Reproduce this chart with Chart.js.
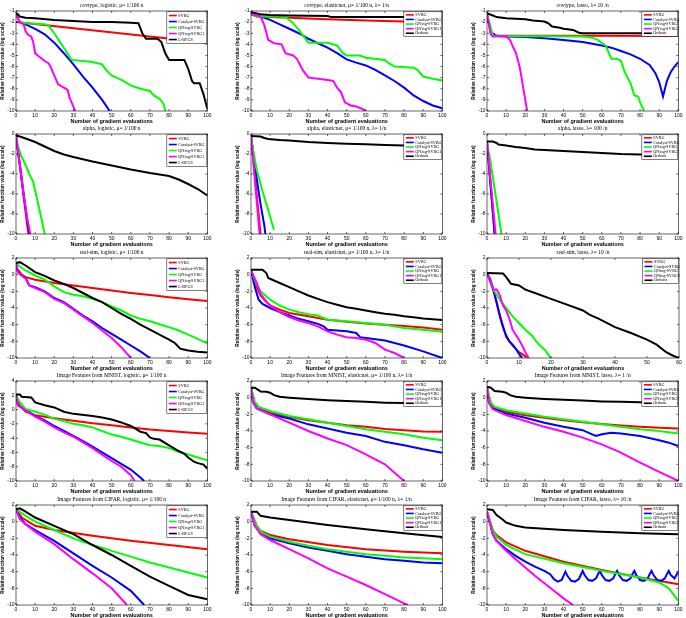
<!DOCTYPE html>
<html><head><meta charset="utf-8">
<script src="https://cdn.jsdelivr.net/npm/chart.js@4.4.0/dist/chart.umd.min.js"></script>
<style>
html,body{margin:0;padding:0;background:#fff;}
body{width:686px;height:618px;overflow:hidden;position:relative;}
canvas{position:absolute;}
</style>
</head><body>
<script>
// ---------- names / labels ----------
const seriesNamesLogistic = ['SVRG','Catalyst-SVRG','QNing-SVRG','QNing-SVRG1','L-BFGS'];
const seriesNamesComposite = ['SVRG','Catalyst-SVRG','QNing-SVRG','QNing-SVRG1','Orthant'];
const panelTitles = [
 'covtype, logistic, \u03bc= 1/100 n','covtype, elasticnet, \u03bc= 1/100 n, \u03bb= 1/n','covtype, lasso, \u03bb= 10 /n',
 'alpha, logistic, \u03bc= 1/100 n','alpha, elasticnet, \u03bc= 1/100 n, \u03bb= 1/n','alpha, lasso, \u03bb= 100 /n',
 'real-sim, logistic, \u03bc= 1/100 n','real-sim, elasticnet, \u03bc= 1/100 n, \u03bb= 1/n','real-sim, lasso, \u03bb= 10 /n',
 'Image Features from MNIST, logistic, \u03bc= 1/100 n','Image Features from MNIST, elasticnet, \u03bc= 1/100 n, \u03bb= 1/n','Image Features from MNIST, lasso, \u03bb= 1 /n',
 'Image Features from CIFAR, logistic, \u03bc= 1/100 n','Image Features from CIFAR, elasticnet, \u03bc= 1/100 n, \u03bb= 1/n','Image Features from CIFAR, lasso, \u03bb= 10 /n'
];
const xAxisLabel = 'Number of gradient evaluations';
const yAxisLabel = 'Relative function value (log scale)';
// axis ranges [xMax, yMin, yMax, yStep]
const axisRanges = [
 [100,-10,-1,1],[100,-10,-1,1],[100,-10,-1,1],
 [100,-10,0,2],[100,-10,0,2],[100,-10,0,2],
 [100,-10,2,2],[100,-10,2,2],[60,-10,2,2],
 [100,-10,4,2],[100,-10,2,2],[100,-10,2,2],
 [100,-10,2,2],[100,-10,2,2],[100,-10,2,2]
];

// ---------- data: [gradient evaluations, log10 relative value] ----------
// covtype logistic
const covLogSVRG = [[0,-2.0],[100,-3.85]];
const covLogCat = [[0,-1.3],[2,-2.0],[5,-2.2],[10,-2.6],[15,-3.1],[20,-3.85],[25,-4.8],[30,-5.8],[35,-6.9],[40,-7.9],[45,-9.0],[49,-10]];
const covLogQN = [[0,-1.3],[2,-2.0],[5,-2.1],[10,-2.15],[15,-2.2],[17,-2.3],[20,-3.0],[25,-4.3],[29,-5.4],[35,-5.5],[40,-5.6],[45,-5.8],[47,-6.3],[50,-6.8],[55,-7.2],[60,-7.7],[65,-8.0],[70,-8.2],[72,-8.6],[75,-8.9],[77,-9.3],[78,-10]];
const covLogQN1 = [[0,-1.3],[2,-2.0],[4,-2.2],[5,-2.8],[6,-3.1],[8,-3.3],[9,-3.8],[10,-4.8],[12,-5.1],[15,-5.5],[17,-5.7],[18,-6.0],[20,-6.8],[22,-7.6],[25,-7.9],[27,-8.1],[28,-8.8],[30,-9.6],[31,-10]];
const covLogLBFGS = [[0,-1.2],[1,-1.3],[2,-1.5],[5,-1.6],[10,-1.65],[20,-1.8],[30,-1.9],[40,-2.0],[50,-2.0],[60,-2.05],[64,-2.1],[66,-3.0],[68,-3.5],[74,-3.5],[76,-3.8],[78,-4.8],[80,-5.4],[88,-5.4],[90,-6.2],[92,-7.3],[93,-7.5],[96,-7.5],[98,-8.5],[100,-9.8]];
// covtype elasticnet
const covEnSVRG = [[0,-1.3],[3,-1.5],[10,-1.55],[20,-1.6],[40,-1.75],[60,-1.85],[80,-1.95],[100,-2.05]];
const covEnCat = [[0,-1.3],[5,-1.5],[10,-1.8],[15,-2.2],[20,-2.6],[25,-3.0],[30,-3.5],[35,-3.9],[40,-4.3],[45,-4.8],[50,-5.35],[55,-5.65],[60,-5.9],[65,-6.3],[70,-6.8],[75,-7.3],[80,-7.9],[85,-8.6],[90,-9.1],[95,-9.5],[100,-9.75]];
const covEnQN = [[0,-1.3],[3,-1.5],[15,-1.5],[19,-1.65],[22,-2.1],[25,-2.7],[28,-3.4],[30,-3.85],[40,-3.85],[45,-4.1],[48,-4.8],[50,-5.0],[57,-5.0],[60,-5.2],[70,-5.4],[72,-5.7],[75,-6.0],[85,-6.1],[87,-6.3],[90,-6.9],[95,-7.1],[100,-7.25]];
const covEnQN1 = [[0,-1.3],[5,-1.5],[7,-2.3],[9,-3.6],[12,-3.9],[16,-4.0],[18,-4.8],[22,-5.0],[24,-5.3],[27,-6.3],[30,-7.0],[35,-7.1],[40,-7.2],[43,-7.3],[45,-7.9],[47,-8.3],[49,-9.2],[52,-9.5],[55,-9.6],[58,-9.8],[60,-10]];
const covEnOrth = [[0,-1.1],[5,-1.3],[10,-1.35],[20,-1.4],[40,-1.45],[42,-1.55],[60,-1.55],[80,-1.55],[100,-1.5]];
// covtype lasso
const covLaSVRG = [[0,-1.3],[2,-3.0],[5,-3.2],[100,-3.25]];
const covLaCat = [[0,-1.3],[2,-2.9],[5,-3.25],[10,-3.3],[20,-3.35],[30,-3.45],[40,-3.6],[50,-3.8],[60,-4.1],[65,-4.3],[70,-4.6],[75,-4.9],[80,-5.3],[85,-5.85],[88,-6.6],[90,-7.4],[92,-8.7],[94,-7.3],[96,-6.5],[98,-6.0],[100,-5.6]];
const covLaQN = [[0,-1.3],[2,-2.5],[3,-3.2],[10,-3.25],[50,-3.3],[55,-3.4],[58,-3.6],[60,-3.9],[62,-4.1],[63,-4.5],[65,-5.3],[68,-5.3],[70,-5.5],[72,-6.5],[75,-7.5],[77,-8.6],[79,-8.7],[80,-9.2],[81,-9.6],[82,-10]];
const covLaQN1 = [[0,-1.3],[2,-3.1],[3,-3.3],[10,-3.25],[12,-3.6],[14,-4.4],[15,-4.7],[17,-6.0],[18,-6.9],[19,-8.0],[20,-9.0],[21,-10]];
const covLaOrth = [[0,-1.2],[3,-1.4],[5,-1.55],[10,-1.65],[20,-1.75],[24,-1.85],[30,-1.95],[32,-2.1],[34,-2.4],[38,-2.5],[40,-2.6],[45,-2.7],[48,-2.95],[50,-3.0],[100,-3.0]];
// alpha logistic
const alpLogSVRG = [[0,-0.2],[2,-3.2],[4,-6.3],[6,-9.3],[6.5,-10]];
const alpLogCat = [[0,-0.2],[2,-3.0],[4,-6.0],[6,-8.8],[7,-10]];
const alpLogQN = [[0,-0.2],[1,-1.2],[3,-2.3],[5,-3.1],[7,-4.0],[9,-4.8],[11,-6.5],[13,-8.2],[15,-10]];
const alpLogQN1 = [[0,-0.2],[2,-3.1],[4,-6.1],[6,-8.6],[7.5,-10]];
const alpLogLBFGS = [[0,-0.15],[2,-0.25],[5,-0.45],[10,-0.8],[15,-1.25],[20,-1.7],[25,-2.05],[30,-2.3],[40,-2.75],[50,-3.15],[60,-3.55],[70,-3.9],[80,-4.2],[85,-4.55],[90,-5.0],[95,-5.5],[100,-6.15]];
// alpha elasticnet
const alpEnSVRG = [[0,-0.2],[5,-10]];
const alpEnCat = [[0,-0.2],[3,-4.5],[5,-7.0],[7,-9.2],[7.5,-10]];
const alpEnQN = [[0,-0.2],[1,-1.5],[3,-3.6],[6,-5.7],[9,-7.6],[12,-9.6]];
const alpEnQN1 = [[0,-0.2],[4.5,-10]];
const alpEnOrth = [[0,-0.2],[5,-0.25],[7,-0.4],[9,-0.5],[15,-0.6],[20,-0.65],[30,-0.8],[40,-0.9],[50,-0.97],[60,-1.03],[70,-1.1],[80,-1.15],[100,-1.2]];
// alpha lasso
const alpLaSVRG = [[0,-0.8],[4,-10]];
const alpLaCat = [[0,-0.8],[4,-10]];
const alpLaQN = [[0,-0.8],[2,-3.0],[4,-5.5],[6,-8.0],[7.5,-10]];
const alpLaQN1 = [[0,-0.8],[4.5,-10]];
const alpLaOrth = [[0,-0.75],[3,-0.75],[5,-0.9],[6,-1.05],[10,-1.15],[15,-1.3],[20,-1.4],[25,-1.55],[30,-1.6],[40,-1.7],[50,-1.8],[60,-1.9],[70,-2.0],[80,-2.05],[90,-2.1],[100,-2.2]];
// real-sim logistic
const rsLogSVRG = [[0,0.9],[3,0],[5,-0.3],[10,-0.6],[20,-1.0],[30,-1.3],[40,-1.6],[50,-1.9],[60,-2.2],[70,-2.45],[80,-2.7],[90,-2.95],[100,-3.15]];
const rsLogCat = [[0,1.3],[1,0.3],[3,-0.1],[5,-0.4],[7,-1.3],[10,-1.5],[15,-2.0],[20,-2.8],[25,-3.3],[30,-4.1],[35,-4.9],[40,-5.6],[45,-6.4],[50,-7.1],[55,-7.8],[60,-8.5],[65,-9.2],[70,-10]];
const rsLogQN = [[0,1.3],[3,0.8],[5,0.5],[10,-0.1],[15,-0.6],[20,-1.4],[25,-2.1],[30,-2.4],[35,-2.6],[40,-2.9],[45,-3.3],[50,-3.8],[55,-4.3],[60,-4.9],[65,-5.3],[70,-5.6],[75,-5.95],[80,-6.3],[85,-6.7],[90,-7.2],[95,-7.7],[100,-8.25]];
const rsLogQN1 = [[0,1.3],[1,0.3],[3,-0.1],[5,-0.5],[7,-1.3],[10,-1.6],[15,-2.1],[20,-2.9],[25,-3.4],[30,-4.2],[35,-5.0],[40,-5.8],[45,-6.7],[50,-7.6],[55,-8.7],[60,-10]];
const rsLogLBFGS = [[0,1.4],[2,1.5],[5,1.1],[10,0.3],[15,-0.15],[20,-0.7],[25,-1.1],[30,-1.6],[35,-2.2],[40,-2.8],[45,-3.3],[50,-4.0],[55,-4.7],[60,-5.3],[65,-6.0],[70,-6.6],[75,-7.2],[80,-7.8],[83,-8.2],[86,-8.9],[90,-9.1],[95,-9.25],[100,-9.35]];
// real-sim elasticnet
const rsEnSVRG = [[0,0.5],[3,-1.5],[5,-2.5],[8,-3.3],[10,-3.7],[15,-4.2],[20,-4.6],[30,-5.0],[40,-5.4],[50,-5.65],[60,-5.85],[70,-6.0],[80,-6.15],[90,-6.35],[100,-6.6]];
const rsEnCat = [[0,0.5],[2,-1.5],[4,-3.0],[6,-3.5],[10,-4.0],[15,-4.5],[20,-4.9],[25,-5.3],[30,-5.6],[35,-5.9],[38,-6.2],[40,-6.6],[45,-6.7],[50,-6.8],[55,-7.0],[57,-7.5],[60,-7.6],[70,-7.9],[80,-8.5],[90,-9.2],[100,-10]];
const rsEnQN = [[0,0.5],[3,-1.2],[5,-2.0],[10,-3.0],[15,-3.7],[20,-4.2],[25,-4.5],[30,-4.75],[35,-4.9],[40,-5.4],[50,-5.6],[60,-5.8],[70,-6.0],[80,-6.4],[90,-6.6],[100,-6.85]];
const rsEnQN1 = [[0,0.5],[3,-1.0],[5,-2.3],[8,-3.2],[10,-3.7],[15,-4.5],[20,-5.1],[25,-5.5],[30,-5.8],[35,-6.2],[40,-6.8],[45,-7.2],[50,-7.5],[55,-7.6],[60,-7.8],[65,-8.2],[70,-9.0],[75,-9.4],[80,-10]];
const rsEnOrth = [[0,0.6],[6,0.6],[8,0.2],[9,-0.4],[12,-0.7],[15,-1.0],[20,-1.5],[25,-2.0],[30,-2.5],[35,-2.9],[40,-3.3],[45,-3.6],[50,-3.9],[55,-4.1],[60,-4.3],[65,-4.5],[70,-4.7],[75,-4.8],[80,-5.0],[85,-5.1],[90,-5.25],[95,-5.35],[100,-5.45]];
// real-sim lasso
const rsLaSVRG = [[0,0.2],[2,-1.9],[4,-4.8],[6,-7.5],[8,-8.5],[10,-9.3],[12,-9.8],[12.5,-10]];
const rsLaCat = [[0,0.2],[1,-0.5],[2,-1.8],[3,-3.3],[4,-5.0],[5,-6.3],[6,-7.3],[7,-8.0],[8,-8.4],[9,-8.9],[10,-9.5],[11,-10]];
const rsLaQN = [[0,0.2],[2,-1.8],[4,-3.0],[6,-4.0],[8,-5.0],[10,-5.8],[12,-6.6],[14,-7.3],[16,-8.3],[18,-9.0],[20,-10]];
const rsLaQN1 = [[0,0.2],[2,-1.8],[3,-1.75],[4,-2.5],[5,-3.7],[6,-4.3],[7,-5.3],[8,-6.6],[9,-7.2],[10,-7.8],[11,-8.5],[12,-9.3],[13,-10]];
const rsLaOrth = [[0,0.2],[5,0.15],[6,-0.3],[7.5,-1.1],[10,-1.3],[12,-1.8],[15,-2.2],[20,-2.9],[25,-3.6],[30,-4.3],[32,-4.8],[35,-5.3],[40,-6.3],[45,-7.0],[50,-7.8],[53,-8.4],[56,-9.3],[58,-9.7],[60,-10]];
// MNIST logistic
const mnLogSVRG = [[0,2.0],[2,0.5],[5,-0.3],[10,-0.8],[20,-1.2],[30,-1.55],[40,-1.9],[50,-2.2],[60,-2.5],[70,-2.8],[80,-3.0],[90,-3.2],[100,-3.4]];
const mnLogCat = [[0,2.0],[1,0.6],[5,0],[10,-0.9],[15,-1.5],[20,-2.3],[25,-3.0],[30,-3.7],[35,-4.4],[40,-5.2],[45,-6.0],[50,-6.8],[55,-7.6],[60,-8.4],[65,-9.5],[67,-10]];
const mnLogQN = [[0,2.0],[2,1.0],[5,0.1],[10,-0.3],[15,-0.7],[20,-1.3],[25,-1.6],[30,-2.0],[35,-2.2],[40,-2.5],[45,-3.0],[50,-3.5],[55,-3.8],[60,-4.2],[65,-4.6],[70,-5.0],[75,-5.1],[80,-5.4],[85,-5.9],[90,-6.3],[95,-6.7],[100,-7.1]];
const mnLogQN1 = [[0,2.0],[1,0.6],[5,-0.1],[10,-1.0],[15,-1.7],[20,-2.5],[25,-3.2],[30,-3.8],[35,-4.6],[40,-5.4],[45,-6.3],[50,-7.2],[55,-8.0],[60,-9.2],[62,-10]];
const mnLogLBFGS = [[0,2.1],[2,2.1],[3,1.8],[8,1.7],[10,1.0],[15,0.6],[20,0.3],[25,-0.3],[30,-0.6],[40,-0.9],[45,-1.1],[50,-1.4],[55,-1.8],[60,-2.3],[62,-2.6],[65,-3.1],[68,-3.3],[70,-3.9],[72,-4.1],[75,-4.2],[80,-5.0],[85,-5.8],[88,-6.2],[90,-6.7],[93,-7.3],[95,-7.5],[98,-7.7],[100,-8.3]];
// MNIST elasticnet
const mnEnSVRG = [[0,1.2],[2,-0.8],[5,-1.3],[10,-1.8],[20,-2.3],[30,-2.7],[40,-3.0],[50,-3.3],[60,-3.5],[70,-3.75],[80,-3.9],[90,-4.05],[100,-4.1]];
const mnEnCat = [[0,1.2],[1,-0.5],[3,-1.3],[10,-2.0],[20,-2.5],[30,-3.2],[40,-3.7],[50,-4.2],[60,-4.6],[70,-5.3],[80,-5.7],[90,-6.2],[100,-6.6]];
const mnEnQN = [[0,1.2],[2,-0.5],[4,-1.1],[10,-1.6],[20,-2.2],[30,-2.6],[40,-3.0],[50,-3.4],[60,-3.8],[70,-4.1],[80,-4.4],[90,-4.8],[100,-5.1]];
const mnEnQN1 = [[0,1.2],[1,-0.5],[3,-1.3],[10,-2.0],[20,-3.0],[30,-4.0],[40,-4.9],[50,-5.7],[60,-6.8],[70,-8.0],[75,-9.0],[80,-10]];
const mnEnOrth = [[0,1.2],[2,1.2],[5,0.75],[8,0.7],[10,0.6],[12,0.3],[15,0.1],[20,0],[30,-0.15],[40,-0.3],[50,-0.4],[60,-0.5],[70,-0.6],[80,-0.65],[90,-0.7],[100,-0.7]];
// MNIST lasso
const mnLaSVRG = [[0,1.2],[2,-0.8],[4,-1.3],[10,-1.7],[20,-2.1],[30,-2.4],[40,-2.7],[50,-2.95],[60,-3.15],[70,-3.35],[80,-3.5],[90,-3.6],[100,-3.7]];
const mnLaCat = [[0,1.2],[1,-0.6],[3,-1.3],[10,-1.9],[20,-2.4],[30,-3.0],[40,-3.5],[50,-3.9],[55,-4.4],[57,-4.6],[60,-4.4],[65,-4.2],[70,-4.3],[80,-4.6],[90,-5.1],[95,-5.4],[100,-5.8]];
const mnLaQN = [[0,1.2],[2,-0.6],[4,-1.1],[10,-1.5],[20,-1.9],[30,-2.3],[40,-2.6],[50,-2.9],[60,-3.2],[70,-3.5],[80,-3.8],[90,-4.0],[100,-4.3]];
const mnLaQN1 = [[0,1.2],[1,-0.6],[3,-1.4],[10,-2.1],[20,-2.8],[30,-3.5],[40,-4.1],[50,-4.8],[60,-5.6],[70,-6.6],[80,-7.8],[90,-8.9],[100,-10]];
const mnLaOrth = [[0,1.3],[2,1.2],[4,0.8],[8,0.7],[10,0.6],[12,0.3],[15,0.1],[20,0],[30,-0.15],[40,-0.25],[50,-0.35],[60,-0.45],[70,-0.5],[80,-0.55],[90,-0.6],[100,-0.65]];
// CIFAR logistic
const cfLogSVRG = [[0,1.5],[3,0.5],[10,-0.5],[20,-1.0],[40,-1.7],[60,-2.3],[80,-2.8],[100,-3.3]];
const cfLogCat = [[0,1.5],[2,0.5],[5,-0.3],[10,-1.0],[20,-2.3],[30,-3.8],[40,-5.3],[50,-6.7],[60,-8.3],[67,-10]];
const cfLogQN = [[0,1.5],[5,0.7],[10,0.0],[20,-1.0],[30,-2.0],[40,-2.8],[50,-3.5],[60,-4.2],[70,-4.9],[80,-5.5],[90,-6.1],[100,-6.7]];
const cfLogQN1 = [[0,1.5],[2,0.3],[5,-0.3],[10,-1.2],[20,-2.7],[30,-4.5],[40,-6.2],[50,-8.0],[58,-10]];
const cfLogLBFGS = [[0,1.5],[2,1.6],[5,1.2],[10,0.5],[20,-0.5],[30,-1.5],[40,-2.8],[50,-4.0],[60,-5.3],[70,-6.6],[80,-7.7],[90,-8.8],[100,-9.3]];
// CIFAR elasticnet
const cfEnSVRG = [[0,1.2],[3,-0.5],[5,-1.1],[10,-1.6],[20,-2.1],[40,-2.8],[60,-3.3],[80,-3.6],[100,-3.8]];
const cfEnCat = [[0,1.2],[2,-0.5],[5,-1.3],[10,-2.0],[20,-2.6],[30,-3.1],[40,-3.5],[50,-3.9],[60,-4.2],[70,-4.5],[80,-4.7],[90,-4.9],[100,-5.0]];
const cfEnQN = [[0,1.2],[3,-0.5],[5,-1.2],[10,-1.8],[20,-2.4],[30,-2.9],[40,-3.3],[50,-3.6],[60,-3.9],[70,-4.1],[80,-4.3],[90,-4.4],[100,-4.5]];
const cfEnQN1 = [[0,1.2],[2,-0.5],[5,-1.5],[10,-2.2],[20,-3.3],[30,-4.4],[40,-5.6],[50,-6.6],[60,-7.6],[70,-8.7],[80,-9.8],[82,-10]];
const cfEnOrth = [[0,1.2],[3,1.2],[5,0.7],[10,0.5],[20,0.2],[40,-0.4],[60,-0.9],[80,-1.4],[100,-1.85]];
// CIFAR lasso
const cfLaSVRG = [[0,1.2],[3,-1.0],[5,-1.6],[10,-2.5],[20,-3.5],[40,-4.8],[60,-5.8],[80,-6.7],[100,-7.5]];
const cfLaCat = [[0,1.2],[3,-1.5],[5,-2.3],[10,-3.3],[15,-4.1],[20,-4.8],[25,-5.4],[30,-5.9],[33,-6.3],[35,-6.9],[37,-7.2],[39,-7.0],[40,-6.5],[41,-6.0],[42,-6.5],[44,-7.1],[46,-7.2],[48,-6.9],[49,-6.4],[50,-5.9],[51,-6.4],[53,-7.0],[55,-7.1],[57,-6.8],[58,-6.3],[59,-5.9],[60,-6.4],[62,-7.0],[64,-7.1],[66,-6.8],[67,-6.3],[68,-5.9],[69,-6.4],[71,-7.0],[73,-7.1],[75,-6.8],[76,-6.3],[77,-5.9],[78,-6.4],[80,-7.0],[82,-7.1],[84,-6.8],[85,-6.3],[86,-5.9],[87,-6.4],[89,-7.0],[91,-7.1],[93,-6.8],[94,-6.3],[95,-5.9],[96,-6.4],[98,-6.8],[100,-6.0]];
const cfLaQN = [[0,1.2],[3,-1.0],[5,-1.8],[10,-2.8],[20,-3.9],[40,-5.0],[60,-5.9],[80,-6.7],[90,-7.3],[95,-8.0],[100,-9.5]];
const cfLaQN1 = [[0,1.2],[3,-1.5],[5,-2.3],[10,-3.5],[15,-4.5],[20,-5.5],[25,-6.5],[30,-7.4],[35,-8.3],[40,-9.2],[45,-10]];
const cfLaOrth = [[0,1.5],[3,1.4],[5,0.8],[8,0.3],[10,-0.1],[15,-0.5],[20,-0.7],[40,-1.0],[60,-1.2],[80,-1.4],[100,-1.5]];

const panelSeries = [
 [covLogSVRG,covLogCat,covLogQN,covLogQN1,covLogLBFGS],
 [covEnSVRG,covEnCat,covEnQN,covEnQN1,covEnOrth],
 [covLaSVRG,covLaCat,covLaQN,covLaQN1,covLaOrth],
 [alpLogSVRG,alpLogCat,alpLogQN,alpLogQN1,alpLogLBFGS],
 [alpEnSVRG,alpEnCat,alpEnQN,alpEnQN1,alpEnOrth],
 [alpLaSVRG,alpLaCat,alpLaQN,alpLaQN1,alpLaOrth],
 [rsLogSVRG,rsLogCat,rsLogQN,rsLogQN1,rsLogLBFGS],
 [rsEnSVRG,rsEnCat,rsEnQN,rsEnQN1,rsEnOrth],
 [rsLaSVRG,rsLaCat,rsLaQN,rsLaQN1,rsLaOrth],
 [mnLogSVRG,mnLogCat,mnLogQN,mnLogQN1,mnLogLBFGS],
 [mnEnSVRG,mnEnCat,mnEnQN,mnEnQN1,mnEnOrth],
 [mnLaSVRG,mnLaCat,mnLaQN,mnLaQN1,mnLaOrth],
 [cfLogSVRG,cfLogCat,cfLogQN,cfLogQN1,cfLogLBFGS],
 [cfEnSVRG,cfEnCat,cfEnQN,cfEnQN1,cfEnOrth],
 [cfLaSVRG,cfLaCat,cfLaQN,cfLaQN1,cfLaOrth]
];

// ---------- layout / style ----------
const colors = ['#ff0000','#0000ff','#00ff00','#ff00ff','#000000'];
const colLeft = [16,251,487];
const rowTop = [11,134,258,381,505];
const PW = 192, PH = 100, YA = 16, TT = 12, XA = 14, PR = 5;
const legendDims = [{w:40,lh:6},{w:38,lh:4.6},{w:36,lh:4.6}];

function boxPlugin(){
  return {id:'boxTicks', afterDatasetsDraw(chart){
    const ctx = chart.ctx, a = chart.chartArea, xs = chart.scales.x, ys = chart.scales.y;
    ctx.save();
    ctx.strokeStyle = '#000'; ctx.lineWidth = 0.6;
    ctx.strokeRect(a.left, a.top, a.right - a.left, a.bottom - a.top);
    ctx.beginPath();
    xs.ticks.forEach(t => { const p = xs.getPixelForValue(t.value);
      ctx.moveTo(p, a.bottom); ctx.lineTo(p, a.bottom - 2);
      ctx.moveTo(p, a.top); ctx.lineTo(p, a.top + 2); });
    ys.ticks.forEach(t => { const p = ys.getPixelForValue(t.value);
      ctx.moveTo(a.left, p); ctx.lineTo(a.left + 2, p);
      ctx.moveTo(a.right, p); ctx.lineTo(a.right - 2, p); });
    ctx.stroke();
    ctx.restore();
  }};
}
function legendPlugin(dims){
  return {id:'boxLegend', afterDraw(chart){
    const ctx = chart.ctx, a = chart.chartArea;
    const ds = chart.data.datasets;
    const w = dims.w, lh = dims.lh, h = lh * ds.length + 1.5;
    const x0 = a.right - w - 0.5, y0 = a.top + 0.8;
    ctx.save();
    ctx.fillStyle = '#fff'; ctx.fillRect(x0, y0, w, h);
    ctx.strokeStyle = '#000'; ctx.lineWidth = 0.5; ctx.strokeRect(x0, y0, w, h);
    ctx.font = '4.2px "Liberation Serif"'; ctx.textBaseline = 'middle'; ctx.textAlign = 'left';
    ds.forEach((d, i) => {
      const yy = y0 + 0.75 + lh * (i + 0.5);
      ctx.strokeStyle = d.borderColor; ctx.lineWidth = 1.6;
      ctx.beginPath(); ctx.moveTo(x0 + 2, yy); ctx.lineTo(x0 + 10, yy); ctx.stroke();
      ctx.fillStyle = '#000'; ctx.fillText(d.label, x0 + 11.5, yy);
    });
    ctx.restore();
  }};
}

panelTitles.forEach((title, k) => {
  const r = Math.floor(k / 3), c = k % 3;
  const [xMax, yMin, yMax, yStep] = axisRanges[k];
  const names = (c === 0) ? seriesNamesLogistic : seriesNamesComposite;
  const cv = document.createElement('canvas');
  cv.width = YA + PW + PR; cv.height = TT + PH + XA;
  cv.style.left = (colLeft[c] - YA) + 'px';
  cv.style.top = (rowTop[r] - TT) + 'px';
  document.body.appendChild(cv);
  new Chart(cv, {
    type: 'line',
    data: { datasets: panelSeries[k].map((s, i) => ({
      label: names[i],
      data: s.map(p => ({x: p[0], y: p[1]})),
      borderColor: colors[i], backgroundColor: colors[i],
      borderWidth: 2, pointRadius: 0, fill: false, tension: 0, order: 4 - i
    })) },
    options: {
      responsive: false, animation: false, events: [],
      layout: { padding: { left: 0, right: PR, top: 0, bottom: 0 } },
      plugins: {
        legend: { display: false }, tooltip: { enabled: false },
        title: { display: true, text: title, fullSize: false, color: '#000',
          font: { family: '"Liberation Serif"', size: 5.5, weight: 'normal', lineHeight: 1.2 },
          padding: { top: 3, bottom: 2.4 } }
      },
      scales: {
        x: { type: 'linear', min: 0, max: xMax,
          ticks: { stepSize: 10, color: '#000', padding: 1.5, maxRotation: 0, autoSkip: false,
            font: { family: '"Liberation Sans"', size: 5 } },
          grid: { display: false, drawTicks: false }, border: { display: false },
          title: { display: true, text: xAxisLabel, color: '#000', padding: 0,
            font: { family: '"Liberation Sans"', size: 5.5, weight: 'bold' } },
          afterFit: s => { s.height = XA; } },
        y: { type: 'linear', min: yMin, max: yMax,
          ticks: { stepSize: yStep, color: '#000', padding: 1.5, autoSkip: false,
            font: { family: '"Liberation Sans"', size: 5 } },
          grid: { display: false, drawTicks: false }, border: { display: false },
          title: { display: true, text: yAxisLabel, color: '#000', padding: 0,
            font: { family: '"Liberation Sans"', size: 4.8, weight: 'bold' } },
          afterFit: s => { s.width = YA; } }
      }
    },
    plugins: [boxPlugin(), legendPlugin(legendDims[c])]
  });
});
</script>
</body></html>
